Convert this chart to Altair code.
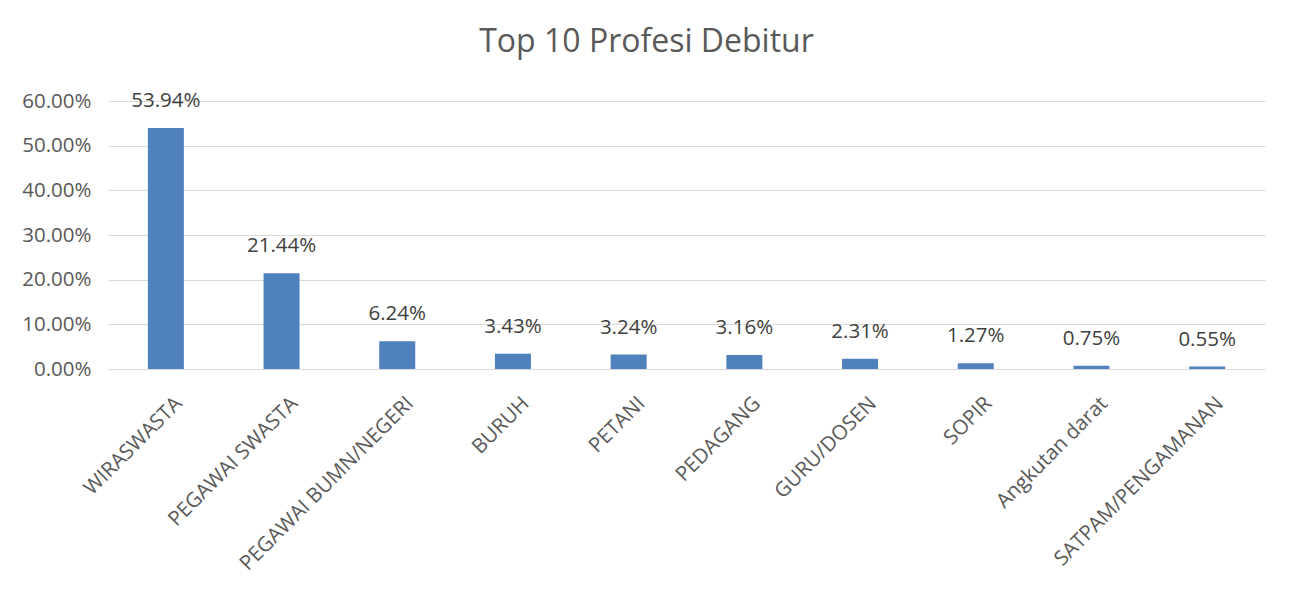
import altair as alt
import pandas as pd

categories = ["WIRASWASTA", "PEGAWAI SWASTA", "PEGAWAI BUMN/NEGERI", "BURUH", "PETANI",
              "PEDAGANG", "GURU/DOSEN", "SOPIR", "Angkutan darat", "SATPAM/PENGAMANAN"]
values = [0.5394, 0.2144, 0.0624, 0.0343, 0.0324, 0.0316, 0.0231, 0.0127, 0.0075, 0.0055]
y_ticks = [0.0, 0.1, 0.2, 0.3, 0.4, 0.5, 0.6]

df = pd.DataFrame({"profesi": categories, "nilai": values})

FONT = "Open Sans"
x = alt.X("profesi:N", sort=categories, title=None,
          scale=alt.Scale(paddingInner=0, paddingOuter=0),
          axis=alt.Axis(labelAngle=-45, labelFontSize=20.5, labelColor="#595959", labelFont=FONT,
                        ticks=False, domain=False, labelPadding=24, labelOffset=6, labelLimit=400))
y = alt.Y("nilai:Q", title=None,
          scale=alt.Scale(domain=[0, 0.6], nice=False),
          axis=alt.Axis(values=y_ticks, format=".2%", labelFontSize=20.5, labelColor="#595959",
                        labelFont=FONT, ticks=False, domain=False, labelPadding=17,
                        gridColor="#d9d9d9", gridWidth=1))

bars = alt.Chart(df).mark_bar(color="#4F81BD", size=36).encode(x=x, y=y)
labels = alt.Chart(df).mark_text(baseline="bottom", dy=-17, fontSize=20.5, color="#404040", font=FONT).encode(
    x=alt.X("profesi:N", sort=categories), y="nilai:Q", text=alt.Text("nilai:Q", format=".2%"))

chart = (bars + labels).properties(
    width=1157, height=268,
    title=alt.TitleParams("Top 10 Profesi Debitur", fontSize=32, font=FONT, color="#595959",
                          fontWeight="normal", anchor="middle", offset=32, dx=-40),
    autosize=alt.AutoSizeParams(type="none"),
    padding={"left": 100, "top": 93, "right": 20, "bottom": 220},
).configure_view(stroke=None)

chart.save("out.html", embed_options={"renderer": "svg", "actions": False})
